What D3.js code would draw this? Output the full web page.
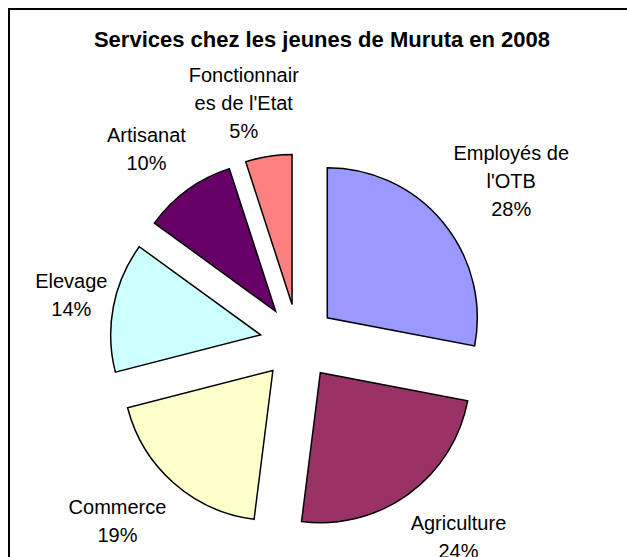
<!DOCTYPE html>
<html>
<head>
<meta charset="utf-8">
<script src="https://cdn.jsdelivr.net/npm/d3@7"></script>
<style>
  body { margin: 0; background: #fff; }
  svg { display: block; }
  text { font-family: "Liberation Sans", Arial, sans-serif; fill: #000; }
</style>
</head>
<body>
<svg id="chart" width="627" height="557"></svg>
<script>
const title = "Services chez les jeunes de Muruta en 2008";

// data, clockwise from 12 o'clock
const categories = ["Employés de l'OTB", "Agriculture", "Commerce", "Elevage", "Artisanat", "Fonctionnaires de l'Etat"];
const values = [28, 24, 19, 14, 10, 5];
// labels as Excel wrapped them
const labelLines = [
  ["Employés de", "l'OTB"],
  ["Agriculture"],
  ["Commerce"],
  ["Elevage"],
  ["Artisanat"],
  ["Fonctionnair", "es de l'Etat"]
];

const colors = ["#9999FF", "#993366", "#FFFFCC", "#CCFFFF", "#660066", "#FF8080"];
// small hand nudges so labels sit where Excel put them
const labelNudge = [[3, 0], [6, 2], [-6, 0], [20, -2], [-2, 0], [-12, 10]];

const width = 627, height = 557;
const cx = 298, cy = 342;
const radius = 150;
const explode = 38;
const labelRadius = 215;
const lineH = 28;

const svg = d3.select('#chart');

// chart frame (cut off on the right and bottom like the source)
svg.append('path')
   .attr('d', 'M9,' + height + 'V9H' + width)
   .attr('fill', 'none')
   .attr('stroke', '#000')
   .attr('stroke-width', 2);

svg.append('text')
   .attr('x', 322)
   .attr('y', 47)
   .attr('text-anchor', 'middle')
   .style('font-size', '22px')
   .style('font-weight', 'bold')
   .text(title);

const pie = d3.pie().sort(null).value(d => d)(values);
const arc = d3.arc().innerRadius(0).outerRadius(radius);

const g = svg.append('g')
             .attr('transform', 'translate(' + cx + ',' + cy + ')');

pie.forEach((p, i) => {
  const mid = (p.startAngle + p.endAngle) / 2;
  const ux = Math.sin(mid), uy = -Math.cos(mid);

  g.append('path')
   .attr('d', arc(p))
   .attr('transform', 'translate(' + (ux * explode) + ',' + (uy * explode) + ')')
   .attr('fill', colors[i])
   .attr('stroke', '#000')
   .attr('stroke-width', 1.5)
   .attr('stroke-linejoin', 'miter');

  // label block: name lines + percent
  const lines = labelLines[i].concat([d3.format('.0%')(p.value / 100)]);
  const label = g.append('text')
                 .attr('text-anchor', 'middle')
                 .style('font-size', '20px');
  lines.forEach(l => label.append('tspan').text(l));

  // measure widest line, then push the box outward
  const tsp = label.selectAll('tspan').nodes();
  const hw = d3.max(tsp, n => n.getComputedTextLength()) / 2;
  const hh = (lines.length * lineH) / 2 - 5;
  const bx = ux * labelRadius + ux * hw + labelNudge[i][0];
  const by = uy * labelRadius + uy * hh + labelNudge[i][1];

  label.selectAll('tspan')
       .attr('x', bx)
       .attr('y', (d, k) => by + (k - (lines.length - 1) / 2) * lineH + 7);
});
</script>
</body>
</html>
